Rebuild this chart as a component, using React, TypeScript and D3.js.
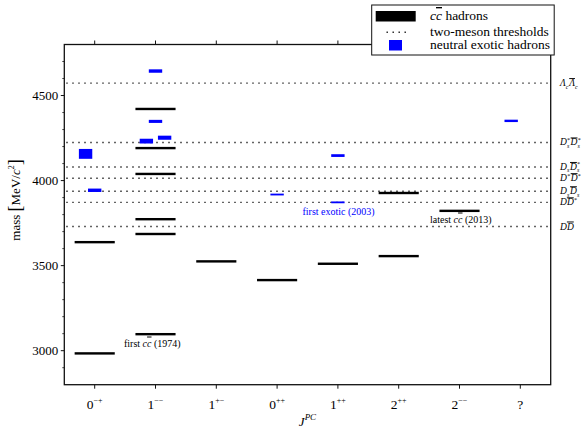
import React from "react";
import * as d3 from "d3";

// J^PC columns
const CATEGORIES = ["0-+", "1--", "1+-", "0++", "1++", "2++", "2--", "?"];
const CAT_J = ["0", "1", "1", "0", "1", "2", "2", "?"];
const CAT_PC = ["\u2212+", "\u2212\u2212", "+\u2212", "++", "++", "++", "\u2212\u2212", ""];

// conventional c cbar states [J^PC, mass MeV]
const CC_STATES: [string, number][] = [
	["0-+", 2984], ["0-+", 3638],
	["1--", 3097], ["1--", 3686], ["1--", 3773], ["1--", 4039], ["1--", 4191], ["1--", 4421],
	["1+-", 3525],
	["0++", 3415],
	["1++", 3511],
	["2++", 3556], ["2++", 3927],
	["2--", 3822]
];

// neutral exotic states [J^PC, mass, half error MeV, slot in column]
const EXOTICS: [string, number, number, number][] = [
	["0-+", 4157, 29, -1], ["0-+", 3943, 10, 0],
	["1--", 4644, 10, 0], ["1--", 4348, 9, 0], ["1--", 4232, 14, -1], ["1--", 4252, 12, 1],
	["0++", 3918, 5, 0],
	["1++", 3872, 5, 0], ["1++", 4147, 8, 0],
	["?", 4351, 7, -1]
];

// two-meson thresholds
const THRESHOLD_MASS = [4573, 4224, 4080, 4014, 3937, 3872, 3730];
const THRESHOLD_PAIRS = [
	["Λ_c", "Λ_c"], ["D_s^*", "D_s^*"], ["D_s", "D_s^*"], ["D^*", "D^*"],
	["D_s", "D_s"], ["D", "D^*"], ["D", "D"]
];

const Y_MAJOR = [3000, 3500, 4000, 4500];

const FONT = "'Liberation Serif', 'DejaVu Serif', serif";
const BLUE = "#0000ff";

const M = { left: 64.3, right: 550.7, top: 44.5, bottom: 384.7 };

const x = d3.scaleBand().domain(CATEGORIES).range([M.left, M.right]);
const cx = (c: string) => (x(c) as number) + x.bandwidth() / 2;
const y = d3.scaleLinear().domain([2800, 4800]).range([M.bottom, M.top]);

const minorTicks = d3.range(2900, 4800, 100).filter((v) => Y_MAJOR.indexOf(v) < 0);

function mesonSpans(code: string, bar: boolean, key: string) {
	const m = code.match(/^([^_^]+)(?:_([^^]+))?(?:\^(.+))?$/) || [code, code];
	const base = m[1];
	const sub = m[2];
	const sup = m[3];
	const out: any[] = [];
	out.push(
		<tspan key={key + "b"} style={bar ? { textDecoration: "overline" } : undefined}>
			{base}
		</tspan>
	);
	if (sub && sup) {
		out.push(<tspan key={key + "s"} fontSize={6} dy={2.5}>{sub}</tspan>);
		out.push(<tspan key={key + "p"} fontSize={6} dx={-2.4} dy={-6}>{sup}</tspan>);
		out.push(<tspan key={key + "r"} dy={3.5}>{"\u200a"}</tspan>);
	} else if (sub) {
		out.push(<tspan key={key + "s"} fontSize={6} dy={2.5}>{sub}</tspan>);
		out.push(<tspan key={key + "r"} dy={-2.5}>{"\u200a"}</tspan>);
	} else if (sup) {
		out.push(<tspan key={key + "p"} fontSize={6} dy={-3.5}>{sup}</tspan>);
		out.push(<tspan key={key + "r"} dy={3.5}>{"\u200a"}</tspan>);
	}
	return out;
}

export default function App() {
	const bw = x.bandwidth();
	const barW = bw * 0.66;
	const exoW = bw * 0.22;
	const slot = bw * 0.15;

	return (
		<svg width={581} height={428} style={{ position: "absolute", left: 0, top: 0, background: "#fff" }} fontFamily={FONT}>
			{/* threshold lines */}
			{THRESHOLD_MASS.map((m, i) => (
				<line key={"th" + i} x1={M.left + 2} x2={M.right - 1} y1={y(m)} y2={y(m)}
					stroke="#222" strokeWidth={1.4} strokeDasharray="1.4 4.6" />
			))}

			{/* c cbar states */}
			{CC_STATES.map(([c, m], i) => (
				<rect key={"cc" + i} x={cx(c) - barW / 2} y={y(m) - 1.2} width={barW} height={2.4} fill="#000" />
			))}

			{/* exotics */}
			{EXOTICS.map(([c, m, e, s], i) => {
				const h = Math.max(y(m - e) - y(m + e), 1.8);
				return (
					<rect key={"ex" + i} x={cx(c) + s * slot - exoW / 2} y={y(m) - h / 2}
						width={exoW} height={h} fill={BLUE} />
				);
			})}

			{/* frame */}
			<rect x={M.left} y={M.top} width={M.right - M.left} height={M.bottom - M.top}
				fill="none" stroke="#111" strokeWidth={1.3} />

			{/* y ticks */}
			{Y_MAJOR.map((v) => (
				<g key={"ym" + v}>
					<line x1={M.left - 3.5} x2={M.left} y1={y(v)} y2={y(v)} stroke="#111" strokeWidth={1} />
					<text x={M.left - 6} y={y(v) + 4.5} fontSize={13} textAnchor="end">{v}</text>
				</g>
			))}
			{minorTicks.map((v) => (
				<line key={"yn" + v} x1={M.left - 2} x2={M.left} y1={y(v)} y2={y(v)} stroke="#111" strokeWidth={0.8} />
			))}

			{/* x ticks */}
			{CATEGORIES.map((c, i) => (
				<g key={"xt" + c}>
					<line x1={cx(c)} x2={cx(c)} y1={M.bottom} y2={M.bottom + 4} stroke="#111" strokeWidth={1} />
					<line x1={cx(c)} x2={cx(c)} y1={M.top} y2={M.top - 4} stroke="#111" strokeWidth={1} />
					<text x={cx(c)} y={409} fontSize={13.5} textAnchor="middle">
						{CAT_J[i]}
						{CAT_PC[i] && <tspan fontSize={8} dy={-6}>{CAT_PC[i]}</tspan>}
					</text>
				</g>
			))}

			{/* axis labels */}
			<text x={(M.left + M.right) / 2} y={426} fontSize={13} textAnchor="middle" fontStyle="italic">
				J<tspan fontSize={9} dy={-6}>PC</tspan>
			</text>
			<text transform="translate(20,200) rotate(-90)" fontSize={13} textAnchor="middle">
				mass <tspan fontSize={18} dy={1}>[</tspan>
				<tspan dy={-1}>MeV/</tspan>
				<tspan fontStyle="italic">c</tspan>
				<tspan fontSize={8} dy={-6}>2</tspan>
				<tspan fontSize={18} dy={7}>]</tspan>
			</text>

			{/* threshold labels */}
			{THRESHOLD_MASS.map((m, i) => (
				<text key={"tl" + i} x={560} y={y(m) + 3} fontSize={9.5} fontStyle="italic">
					{mesonSpans(THRESHOLD_PAIRS[i][0], false, "a" + i)}
					{mesonSpans(THRESHOLD_PAIRS[i][1], true, "b" + i)}
				</text>
			))}

			{/* annotations */}
			<text x={124} y={346.5} fontSize={10}>
				first <tspan fontStyle="italic">c</tspan>
				<tspan fontStyle="italic" style={{ textDecoration: "overline" }}>c</tspan> (1974)
			</text>
			<text x={302.5} y={214.5} fontSize={10} fill={BLUE}>first exotic (2003)</text>
			<text x={430} y={222.5} fontSize={10}>
				latest <tspan fontStyle="italic">c</tspan>
				<tspan fontStyle="italic" style={{ textDecoration: "overline" }}>c</tspan> (2013)
			</text>

			{/* legend */}
			<g>
				<rect x={371.7} y={5} width={182.5} height={50} fill="#fff" stroke="#111" strokeWidth={1} />
				<rect x={375.7} y={11} width={40} height={10.5} fill="#000" />
				<line x1={386.5} x2={406} y1={32.3} y2={32.3} stroke="#222" strokeWidth={1.4} strokeDasharray="1.4 4.6" />
				<rect x={389} y={40} width={13} height={10.5} fill={BLUE} />
				<text x={430} y={20} fontSize={13.5}>
					<tspan fontStyle="italic">c</tspan>
					<tspan fontStyle="italic" style={{ textDecoration: "overline" }}>c</tspan> hadrons
				</text>
				<text x={430} y={35.5} fontSize={13.5}>two-meson thresholds</text>
				<text x={430} y={49} fontSize={13.5}>neutral exotic hadrons</text>
			</g>
		</svg>
	);
}
